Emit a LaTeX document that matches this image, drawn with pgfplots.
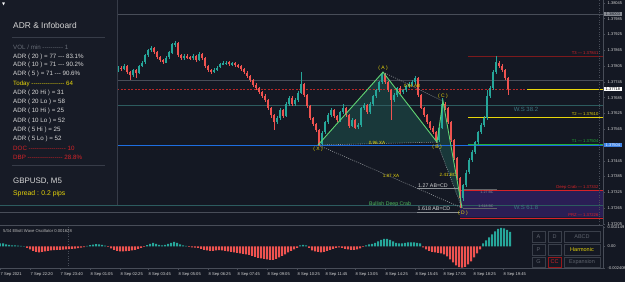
\documentclass[border=0pt]{standalone}
\usepackage{fontspec}
\setmainfont{Liberation Sans}
\newfontfamily\djv{DejaVu Sans}
\usepackage{pgfplots}
\usepackage{pgfplotstable}
\pgfplotsset{compat=1.18}
\definecolor{bgc}{RGB}{20,24,35}
\definecolor{panel}{RGB}{23,27,38}
\definecolor{panelb}{RGB}{55,60,72}
\definecolor{frame}{RGB}{72,77,88}
\definecolor{upc}{RGB}{38,166,154}
\definecolor{dnc}{RGB}{239,83,80}
\definecolor{txt}{RGB}{215,215,215}
\definecolor{gtxt}{RGB}{105,110,120}
\definecolor{yel}{RGB}{232,214,10}
\definecolor{redA}{RGB}{215,35,40}
\definecolor{dredA}{RGB}{125,25,28}
\definecolor{grnA}{RGB}{35,175,55}
\definecolor{bluA}{RGB}{30,110,225}
\definecolor{wsc}{RGB}{45,92,95}
\definecolor{wst}{RGB}{60,118,128}
\definecolor{purp}{RGB}{42,30,85}
\definecolor{patf}{RGB}{28,70,68}
\definecolor{patl}{RGB}{95,212,115}
\definecolor{dotc}{RGB}{140,145,150}
\definecolor{btn}{RGB}{58,63,74}
\definecolor{btnt}{RGB}{95,100,110}
\definecolor{curr}{RGB}{185,40,40}
\newcommand\fs[1]{\fontsize{#1}{#1}\selectfont}
\newcount\dcnt
\newcommand\dsh[1]{\dcnt=0\relax\loop\ifnum\dcnt<#1\relax-\kern0pt\advance\dcnt by 1\relax\repeat}

\pgfplotstableread{
x o h l c
118 1.37790 1.37805 1.37784 1.37798
121 1.37798 1.37806 1.37788 1.37794
124 1.37794 1.37812 1.37790 1.37805
127 1.37805 1.37809 1.37776 1.37782
130 1.37782 1.37788 1.37752 1.37771
133 1.37771 1.37796 1.37765 1.37790
136 1.37790 1.37795 1.37760 1.37779
139 1.37779 1.37810 1.37775 1.37805
142 1.37805 1.37826 1.37800 1.37820
145 1.37820 1.37853 1.37815 1.37847
148 1.37847 1.37872 1.37842 1.37866
151 1.37866 1.37882 1.37860 1.37874
154 1.37874 1.37878 1.37852 1.37858
157 1.37858 1.37862 1.37832 1.37839
160 1.37839 1.37845 1.37822 1.37828
163 1.37828 1.37834 1.37812 1.37820
166 1.37820 1.37845 1.37815 1.37839
169 1.37839 1.37864 1.37834 1.37858
172 1.37858 1.37895 1.37852 1.37889
175 1.37889 1.37900 1.37880 1.37893
178 1.37893 1.37898 1.37840 1.37847
181 1.37847 1.37852 1.37830 1.37836
184 1.37836 1.37850 1.37830 1.37843
187 1.37843 1.37852 1.37832 1.37839
190 1.37839 1.37846 1.37828 1.37836
193 1.37836 1.37850 1.37830 1.37843
196 1.37843 1.37848 1.37822 1.37828
199 1.37828 1.37858 1.37824 1.37851
202 1.37851 1.37857 1.37830 1.37836
205 1.37836 1.37840 1.37798 1.37805
208 1.37805 1.37810 1.37784 1.37790
211 1.37790 1.37796 1.37775 1.37782
214 1.37782 1.37796 1.37778 1.37790
217 1.37790 1.37806 1.37786 1.37801
220 1.37801 1.37818 1.37796 1.37813
223 1.37813 1.37824 1.37808 1.37817
226 1.37817 1.37826 1.37810 1.37820
229 1.37820 1.37825 1.37807 1.37813
232 1.37813 1.37823 1.37808 1.37817
235 1.37817 1.37822 1.37803 1.37809
238 1.37809 1.37815 1.37798 1.37805
241 1.37805 1.37810 1.37788 1.37794
244 1.37794 1.37799 1.37776 1.37782
247 1.37782 1.37788 1.37760 1.37767
250 1.37767 1.37772 1.37745 1.37752
253 1.37752 1.37757 1.37726 1.37733
256 1.37733 1.37740 1.37715 1.37722
259 1.37722 1.37728 1.37698 1.37706
262 1.37706 1.37712 1.37684 1.37691
265 1.37691 1.37698 1.37668 1.37676
268 1.37676 1.37682 1.37640 1.37646
271 1.37646 1.37652 1.37610 1.37619
274 1.37619 1.37625 1.37562 1.37592
277 1.37592 1.37615 1.37585 1.37608
280 1.37608 1.37645 1.37600 1.37638
283 1.37638 1.37644 1.37608 1.37615
286 1.37615 1.37668 1.37610 1.37661
289 1.37661 1.37692 1.37655 1.37684
292 1.37684 1.37690 1.37655 1.37661
295 1.37661 1.37684 1.37654 1.37676
298 1.37676 1.37710 1.37670 1.37703
301 1.37703 1.37782 1.37698 1.37737
304 1.37737 1.37742 1.37688 1.37695
307 1.37695 1.37700 1.37646 1.37653
310 1.37653 1.37658 1.37600 1.37608
313 1.37608 1.37614 1.37578 1.37585
316 1.37585 1.37590 1.37555 1.37562
319 1.37562 1.37567 1.37501 1.37509
322 1.37509 1.37560 1.37505 1.37554
325 1.37554 1.37598 1.37548 1.37592
328 1.37592 1.37626 1.37586 1.37619
331 1.37619 1.37645 1.37612 1.37638
334 1.37638 1.37644 1.37608 1.37615
337 1.37615 1.37620 1.37593 1.37600
340 1.37600 1.37636 1.37595 1.37630
343 1.37630 1.37660 1.37625 1.37646
346 1.37646 1.37652 1.37612 1.37619
349 1.37619 1.37624 1.37570 1.37577
352 1.37577 1.37606 1.37572 1.37600
355 1.37600 1.37605 1.37566 1.37573
358 1.37573 1.37588 1.37566 1.37581
361 1.37581 1.37652 1.37576 1.37646
364 1.37646 1.37664 1.37640 1.37657
367 1.37657 1.37662 1.37622 1.37630
370 1.37630 1.37668 1.37625 1.37661
373 1.37661 1.37698 1.37655 1.37691
376 1.37691 1.37720 1.37685 1.37714
379 1.37714 1.37750 1.37708 1.37744
382 1.37744 1.37782 1.37738 1.37775
385 1.37775 1.37780 1.37738 1.37744
388 1.37744 1.37750 1.37706 1.37714
391 1.37714 1.37720 1.37600 1.37676
394 1.37676 1.37702 1.37670 1.37695
397 1.37695 1.37728 1.37690 1.37722
400 1.37722 1.37728 1.37700 1.37706
403 1.37706 1.37720 1.37700 1.37714
406 1.37714 1.37735 1.37708 1.37729
409 1.37729 1.37744 1.37722 1.37737
412 1.37737 1.37752 1.37730 1.37744
415 1.37744 1.37767 1.37738 1.37760
418 1.37760 1.37765 1.37688 1.37695
421 1.37695 1.37700 1.37640 1.37646
424 1.37646 1.37652 1.37612 1.37619
427 1.37619 1.37625 1.37585 1.37592
430 1.37592 1.37598 1.37562 1.37570
433 1.37570 1.37576 1.37546 1.37554
436 1.37554 1.37560 1.37513 1.37524
439 1.37524 1.37576 1.37518 1.37570
442 1.37570 1.37684 1.37565 1.37661
445 1.37661 1.37670 1.37638 1.37646
448 1.37646 1.37652 1.37585 1.37592
451 1.37592 1.37598 1.37516 1.37524
454 1.37524 1.37530 1.37448 1.37456
457 1.37456 1.37462 1.37372 1.37380
460 1.37380 1.37386 1.37266 1.37304
463 1.37304 1.37360 1.37295 1.37353
466 1.37353 1.37410 1.37345 1.37402
469 1.37402 1.37455 1.37395 1.37448
472 1.37448 1.37486 1.37440 1.37478
475 1.37478 1.37522 1.37470 1.37516
478 1.37516 1.37560 1.37508 1.37554
481 1.37554 1.37588 1.37546 1.37581
484 1.37581 1.37615 1.37575 1.37608
487 1.37608 1.37714 1.37600 1.37691
490 1.37691 1.37730 1.37685 1.37722
493 1.37722 1.37790 1.37715 1.37782
496 1.37782 1.37843 1.37775 1.37820
499 1.37820 1.37826 1.37798 1.37805
502 1.37805 1.37812 1.37782 1.37790
505 1.37790 1.37796 1.37752 1.37760
508 1.37760 1.37765 1.37696 1.37718
}\candles

\pgfplotstableread{
x v
0 0.00034
3 0.00034
6 0.00022
9 0.00017
12 0.00011
15 0.00011
18 0.00008
21 0.00006
24 0.00003
27 -0.00017
30 -0.00034
33 -0.00050
36 -0.00062
39 -0.00067
42 -0.00062
45 -0.00056
48 -0.00050
51 -0.00045
54 -0.00043
57 -0.00039
60 -0.00039
63 -0.00037
66 -0.00034
69 -0.00031
72 -0.00028
75 -0.00025
78 -0.00020
81 -0.00013
84 -0.00007
87 0.00006
90 0.00013
93 0.00020
96 0.00025
99 0.00022
102 0.00017
105 0.00009
108 -0.00006
111 -0.00022
114 -0.00039
117 -0.00050
120 -0.00056
123 -0.00056
126 -0.00054
129 -0.00050
132 -0.00045
135 -0.00039
138 -0.00028
141 -0.00017
144 -0.00006
147 0.00013
150 0.00028
153 0.00039
156 0.00028
159 0.00017
162 0.00011
165 0.00017
168 0.00028
171 0.00039
174 0.00050
177 0.00039
180 0.00022
183 0.00011
186 0.00006
189 -0.00006
192 -0.00011
195 -0.00013
198 -0.00017
201 -0.00028
204 -0.00039
207 -0.00045
210 -0.00050
213 -0.00050
216 -0.00045
219 -0.00043
222 -0.00045
225 -0.00050
228 -0.00056
231 -0.00062
234 -0.00067
237 -0.00073
240 -0.00078
243 -0.00084
246 -0.00090
249 -0.00095
252 -0.00106
255 -0.00118
258 -0.00129
261 -0.00134
264 -0.00140
267 -0.00146
270 -0.00151
273 -0.00151
276 -0.00140
279 -0.00123
282 -0.00106
285 -0.00090
288 -0.00067
291 -0.00050
294 -0.00034
297 -0.00017
300 0.00011
303 0.00017
306 0.00011
309 -0.00017
312 -0.00045
315 -0.00056
318 -0.00062
321 -0.00067
324 -0.00062
327 -0.00050
330 -0.00039
333 -0.00028
336 -0.00017
339 -0.00011
342 -0.00017
345 -0.00028
348 -0.00034
351 -0.00039
354 -0.00039
357 -0.00034
360 -0.00022
363 -0.00006
366 0.00011
369 0.00022
372 0.00028
375 0.00039
378 0.00056
381 0.00073
384 0.00084
387 0.00084
390 0.00073
393 0.00056
396 0.00039
399 0.00034
402 0.00034
405 0.00039
408 0.00045
411 0.00045
414 0.00045
417 0.00039
420 0.00034
423 -0.00011
426 -0.00034
429 -0.00050
432 -0.00062
435 -0.00067
438 -0.00073
441 -0.00078
444 -0.00090
447 -0.00112
450 -0.00146
453 -0.00179
456 -0.00213
459 -0.00232
462 -0.00238
465 -0.00230
468 -0.00202
471 -0.00168
474 -0.00123
477 -0.00078
480 -0.00034
483 0.00034
486 0.00067
489 0.00101
492 0.00134
495 0.00168
498 0.00196
501 0.00207
504 0.00202
507 0.00185
510 0.00163
}\ewo

\begin{document}
\begin{tikzpicture}
\fill[bgc] (0pt,0pt) rectangle (625pt,282pt);

\begin{axis}[
  at={(0pt,58pt)}, anchor=south west, scale only axis,
  width=603pt, height=224pt,
  xmin=0, xmax=603, ymin=1.372048, ymax=1.38056,
  clip=false,
  axis x line=none, axis y line*=right,
  axis line style={draw=frame, line width=0.6pt},
  xtick=\empty,
  ytick={1.37205,1.37265,1.37325,1.37385,1.37445,1.37565,1.37625,1.37685,1.37745,1.37805,1.37865,1.37925,1.37985,1.38045},
  yticklabels={1.37205,1.37265,1.37325,1.37385,1.37445,1.37565,1.37625,1.37685,1.37745,1.37805,1.37865,1.37925,1.37985,1.38045},
  scaled y ticks=false,
  yticklabel style={font=\fs{4}, text=txt, anchor=west, inner sep=0pt, xshift=2.5pt},
  tick align=outside, major tick length=2pt,
  tick style={draw=frame, line width=0.4pt},
]
% zones and fills
\addplot[fill=purp, draw=none, forget plot] coordinates {(460,1.37332) (603,1.37332) (603,1.37230) (460,1.37230) (460,1.37332)};
\addplot[fill=patf, fill opacity=0.7, draw=none, forget plot] coordinates {(318,1.37505) (383,1.37782) (437,1.37516) (318,1.37505)};
\addplot[fill=patf, fill opacity=0.7, draw=none, forget plot] coordinates {(437,1.37516) (443,1.37672) (462,1.37266) (437,1.37516)};
% horizontal levels
\addplot[frame, line width=0.8pt, forget plot] coordinates {(117,1.38003) (603,1.38003)};
\addplot[frame, line width=0.8pt, forget plot] coordinates {(117,1.37752) (603,1.37752)};
\addplot[wsc, line width=0.9pt, forget plot] coordinates {(117,1.37657) (603,1.37657)};
\addplot[wsc, line width=0.9pt, forget plot] coordinates {(0,1.37277) (603,1.37277)};
\addplot[frame, line width=0.7pt, forget plot] coordinates {(0,1.37250) (417,1.37250)};
\addplot[dotc, line width=0.7pt, forget plot] coordinates {(417,1.37250) (460,1.37250)};
\addplot[dotc, line width=0.7pt, forget plot] coordinates {(417,1.37340) (460,1.37340)};
\addplot[dotc!70!black, line width=0.6pt, forget plot] coordinates {(463,1.37336) (497,1.37336)};
\addplot[dotc!70!black, line width=0.6pt, forget plot] coordinates {(463,1.37265) (497,1.37265)};
\addplot[bluA, line width=1pt, forget plot] coordinates {(117,1.37502) (603,1.37502)};
\addplot[grnA, line width=0.7pt, forget plot] coordinates {(468,1.37509) (603,1.37509)};
\addplot[yel, line width=0.8pt, forget plot] coordinates {(468,1.37610) (603,1.37610)};
\addplot[dredA, line width=1.6pt, forget plot] coordinates {(468,1.37841) (603,1.37841)};
\addplot[redA, line width=0.9pt, forget plot] coordinates {(460,1.37332) (603,1.37332)};
\addplot[redA, line width=0.9pt, forget plot] coordinates {(460,1.37226) (603,1.37226)};
\addplot[curr, line width=0.6pt, dash pattern=on 2pt off 1.5pt, forget plot] coordinates {(117,1.37718) (527,1.37718)};
\addplot[yel, line width=0.8pt, forget plot] coordinates {(527,1.37718) (603,1.37718)};
\addplot[frame, line width=0.4pt, dotted, forget plot] coordinates {(599,1.372048) (599,1.38056)};
% candles: wicks and bodies
\addplot[draw=none, mark=none, forget plot,
  restrict expr to domain={\thisrow{c}-\thisrow{o}}{0:1},
  error bars/.cd, y dir=both, y explicit, error mark=none,
  error bar style={draw=upc, line width=0.6pt, solid}]
  table[x=x, y expr={(\thisrow{h}+\thisrow{l})/2}, y error expr={(\thisrow{h}-\thisrow{l})/2}] {\candles};
\addplot[draw=none, mark=none, forget plot,
  restrict expr to domain={\thisrow{c}-\thisrow{o}}{0:1},
  error bars/.cd, y dir=both, y explicit, error mark=none,
  error bar style={draw=upc, line width=2pt, solid}]
  table[x=x, y expr={(\thisrow{o}+\thisrow{c})/2}, y error expr={abs(\thisrow{c}-\thisrow{o})/2}] {\candles};
\addplot[draw=none, mark=none, forget plot,
  restrict expr to domain={\thisrow{c}-\thisrow{o}}{-1:0},
  error bars/.cd, y dir=both, y explicit, error mark=none,
  error bar style={draw=dnc, line width=0.6pt, solid}]
  table[x=x, y expr={(\thisrow{h}+\thisrow{l})/2}, y error expr={(\thisrow{h}-\thisrow{l})/2}] {\candles};
\addplot[draw=none, mark=none, forget plot,
  restrict expr to domain={\thisrow{c}-\thisrow{o}}{-1:0},
  error bars/.cd, y dir=both, y explicit, error mark=none,
  error bar style={draw=dnc, line width=2pt, solid}]
  table[x=x, y expr={(\thisrow{o}+\thisrow{c})/2}, y error expr={abs(\thisrow{c}-\thisrow{o})/2}] {\candles};
% pattern dotted guides
\addplot[dotc, line width=0.6pt, dash pattern=on 1pt off 1.2pt, forget plot] coordinates {(318,1.37505) (437,1.37516)};
\addplot[dotc, line width=0.6pt, dash pattern=on 1pt off 1.2pt, forget plot] coordinates {(383,1.37782) (443,1.37672)};
\addplot[dotc, line width=0.6pt, dash pattern=on 1pt off 1.2pt, forget plot] coordinates {(437,1.37516) (462,1.37266)};
\addplot[dotc, line width=0.6pt, dash pattern=on 1pt off 1.2pt, forget plot] coordinates {(318,1.37505) (462,1.37266)};
% pattern legs
\addplot[patl, line width=0.9pt, forget plot] coordinates {(318,1.37505) (383,1.37782) (437,1.37516) (443,1.37672) (462,1.37266)};
% labels
\node[font=\fs{5}, text=yel, inner sep=0pt] at (axis cs:318,1.37490) {( X )};
\node[font=\fs{5}, text=yel, inner sep=0pt] at (axis cs:383,1.37798) {( A )};
\node[font=\fs{5}, text=yel, inner sep=0pt] at (axis cs:437,1.37497) {( B )};
\node[font=\fs{5}, text=yel, inner sep=0pt] at (axis cs:443,1.37691) {( C )};
\node[font=\fs{5}, text=yel, inner sep=0pt] at (axis cs:463,1.37247) {( D )};
\node[font=\fs{4.6}, text=yel, inner sep=0pt] at (axis cs:377,1.37513) {0.96 XA};
\node[font=\fs{4.6}, text=yel, inner sep=0pt] at (axis cs:412,1.37729) {0.84 AB};
\node[font=\fs{4.6}, text=yel, inner sep=0pt] at (axis cs:391,1.37387) {1.87 XA};
\node[font=\fs{4.6}, text=yel, inner sep=0pt] at (axis cs:448,1.37391) {2.41 BC};
\node[font=\fs{5.2}, text=grnA!80!white, inner sep=0pt] at (axis cs:390,1.37281) {Bullish Deep Crab};
\node[font=\fs{5.3}, text=txt, inner sep=0pt] at (axis cs:433,1.37351) {1.27 AB=CD};
\node[font=\fs{5.3}, text=txt, inner sep=0pt] at (axis cs:434,1.37262) {1.618 AB=CD};
\node[font=\fs{3.6}, text=dotc, inner sep=0pt] at (axis cs:487,1.37326) {1.27 BC};
\node[font=\fs{3.6}, text=dotc, inner sep=0pt] at (axis cs:486,1.37273) {1.618 BC};
\node[font=\fs{6}, text=wst, inner sep=0pt] at (axis cs:526,1.37642) {W.S 38.2};
\node[font=\fs{6}, text=wst, inner sep=0pt] at (axis cs:526,1.37266) {W.S 61.8};
\node[font=\fs{4.2}, text=redA, anchor=south east, inner sep=0.4pt] at (axis cs:599,1.37845) {T3 — 1.37841};
\node[font=\fs{4.2}, text=yel, anchor=south east, inner sep=0.4pt] at (axis cs:599,1.37614) {T2 — 1.37610};
\node[font=\fs{4.2}, text=grnA, anchor=south east, inner sep=0.4pt] at (axis cs:599,1.37512) {T1 — 1.37504};
\node[font=\fs{4.2}, text=redA, anchor=south east, inner sep=0.4pt] at (axis cs:599,1.37336) {Deep Crab — 1.37332};
\node[font=\fs{4.2}, text=redA, anchor=south east, inner sep=0.4pt] at (axis cs:599,1.37230) {PRZ — 1.37226};
% price boxes
\node[font=\fs{4}, fill=gtxt!80!white, text=bgc, anchor=west, inner xsep=2pt, inner ysep=0.8pt] at (axis cs:603.5,1.38003) {1.38003};
\node[font=\fs{4}, fill=white, text=black, anchor=west, inner xsep=2pt, inner ysep=0.8pt] at (axis cs:603.5,1.37718) {1.37718};
\node[font=\fs{4}, fill=bluA!85!white, text=white, anchor=west, inner xsep=2pt, inner ysep=0.8pt] at (axis cs:603.5,1.37504) {1.37504};
\end{axis}

\begin{axis}[
  at={(0pt,14pt)}, anchor=south west, scale only axis,
  width=603pt, height=42pt,
  xmin=0, xmax=603, ymin=-0.00242, ymax=0.00228,
  clip=false,
  axis x line*=bottom, axis y line*=right,
  axis line style={draw=frame, line width=0.6pt},
  xtick={0,30,60,90,120,148,178,208,237,267,297,325,355,385,415,443,473,503},
  xticklabels={7 Sep 2021,7 Sep 22:20,7 Sep 23:40,8 Sep 01:05,8 Sep 02:25,8 Sep 03:45,8 Sep 05:05,8 Sep 06:25,8 Sep 07:45,8 Sep 09:05,8 Sep 10:25,8 Sep 11:45,8 Sep 13:05,8 Sep 14:25,8 Sep 15:45,8 Sep 17:05,8 Sep 18:25,8 Sep 19:45},
  xticklabel style={font=\fs{4.1}, text=txt, anchor=north west, inner sep=0pt, xshift=0.5pt, yshift=-2.5pt},
  ytick={-0.0024,0,0.00215},
  yticklabels={-0.002408,0.00,0.002149},
  scaled y ticks=false, scaled x ticks=false,
  yticklabel style={font=\fs{4}, text=txt, anchor=west, inner sep=0pt, xshift=2.5pt},
  tick align=outside, major tick length=2pt,
  tick style={draw=frame, line width=0.4pt},
]
\addplot[frame, line width=0.4pt, dotted, forget plot] coordinates {(68,-0.00242) (68,0.00228)};
\addplot[ybar, bar width=2pt, bar shift=0pt, fill=upc, draw=none, forget plot, restrict y to domain=0:1] table[x=x, y=v] {\ewo};
\addplot[ybar, bar width=2pt, bar shift=0pt, fill=dnc, draw=none, forget plot, restrict y to domain=-1:0] table[x=x, y=v] {\ewo};
\end{axis}

\begin{scope}[x=1pt,y=1pt]
% panel separator
\draw[frame, line width=0.6pt] (0,57) -- (603,57);
% oscillator title
\node[anchor=west, font=\fs{4.2}, text=txt!85!black, inner sep=0pt] at (3,51) {5/34 Elliott Wave Oscillator 0.001628};
% buttons
\foreach \xa/\xb/\t/\c in {532/545/A/btnt, 548/561/D/btnt, 564/600/ABCD/btnt}{
  \draw[btn, line width=0.6pt] (\xa,40) rectangle (\xb,51);
  \node[font=\fs{5.5}, text=\c, inner sep=0pt] at ({(\xa+\xb)/2},45.5) {\t};}
\foreach \xa/\xb/\t/\c in {532/545/P/btnt, 548/561/{}/btnt, 564/600/Harmonic/yel}{
  \draw[btn, line width=0.6pt] (\xa,27) rectangle (\xb,38);
  \node[font=\fs{5.5}, text=\c, inner sep=0pt] at ({(\xa+\xb)/2},32.5) {\t};}
\draw[btn, line width=0.6pt] (532,15) rectangle (545,25);
\node[font=\fs{5.5}, text=btnt, inner sep=0pt] at (538.5,20) {G};
\draw[redA!70!black, line width=0.6pt] (548,15) rectangle (561,25);
\node[font=\fs{5.5}, text=redA, inner sep=0pt] at (554.5,20) {CC};
\draw[btn, line width=0.6pt] (564,15) rectangle (600,25);
\node[font=\fs{5.5}, text=btnt, inner sep=0pt] at (582,20) {Expansion};

% infoboard
\fill[panel] (0,77) rectangle (117,282);
\draw[panelb, line width=0.6pt] (117,77) -- (117,282);
\node[anchor=west, inner sep=0pt, font=\djv\fs{4}, text=white] at (2,278) {▼};
\node[anchor=west, inner sep=0pt, font=\fs{8.4}, text=txt] at (13,257) {ADR \& Infoboard};
\draw[panelb, line width=1pt] (12,245) -- (105,245);
\begin{scope}[every node/.style={anchor=west, inner sep=0pt, font=\fs{6.2}, text=txt}]
\node[text=gtxt] at (13,235) {VOL  / min \dsh{10} 1};
\node at (13,225.3) {ADR  ( 20 ) = 77 \dsh{3} 83.1\%};
\node at (13,216.7) {ADR  ( 10 ) = 71 \dsh{3} 90.2\%};
\node at (13,208) {ADR  (  5 ) = 71 \dsh{3} 90.6\%};
\node[text=yel] at (13,198) {Today \dsh{16} 64};
\node at (13,188.7) {ADR  ( 20 Hi ) = 31};
\node at (13,179.7) {ADR  ( 20 Lo ) = 58};
\node at (13,170.7) {ADR  ( 10 Hi ) = 25};
\node at (13,161.3) {ADR  ( 10 Lo ) = 52};
\node at (13,152.3) {ADR  (  5 Hi ) = 25};
\node at (13,143) {ADR  (  5 Lo ) = 52};
\node[text=redA] at (13,133.7) {DOC \dsh{18} 10};
\node[text=redA] at (13,124.7) {DBP \dsh{17} 28.8\%};
\end{scope}
\draw[panelb, line width=1pt] (12,116.3) -- (105,116.3);
\node[anchor=west, inner sep=0pt, font=\fs{7.9}, text=txt] at (13,101) {GBPUSD, M5};
\node[anchor=west, inner sep=0pt, font=\fs{6.8}, text=yel] at (13,88.7) {Spread : 0.2 pips};
\pgfresetboundingbox
\useasboundingbox (0,0) rectangle (625,282);
\end{scope}
\end{tikzpicture}
\end{document}
